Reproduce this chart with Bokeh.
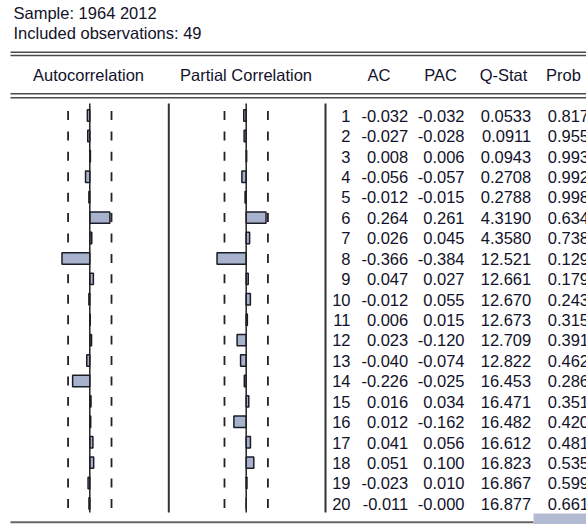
from bokeh.plotting import figure
from bokeh.models import Range1d
from bokeh.core.properties import value
from bokeh.embed import file_html
from bokeh.resources import INLINE

# Correlogram data, lags 1..20
lags = list(range(1, 21))
ac = [-0.032, -0.027, 0.008, -0.056, -0.012, 0.264, 0.026, -0.366, 0.047, -0.012,
      0.006, 0.023, -0.040, -0.226, 0.016, 0.012, 0.041, 0.051, -0.023, -0.011]
pac = [-0.032, -0.028, 0.006, -0.057, -0.015, 0.261, 0.045, -0.384, 0.027, 0.055,
       0.015, -0.120, -0.074, -0.025, 0.034, -0.162, 0.056, 0.100, 0.010, -0.000]
qstat = [0.0533, 0.0911, 0.0943, 0.2708, 0.2788, 4.3190, 4.3580, 12.521, 12.661, 12.670,
         12.673, 12.709, 12.822, 16.453, 16.471, 16.482, 16.612, 16.823, 16.867, 16.877]
prob = [0.817, 0.955, 0.993, 0.992, 0.998, 0.634, 0.738, 0.129, 0.179, 0.243,
        0.315, 0.391, 0.462, 0.286, 0.351, 0.420, 0.481, 0.535, 0.599, 0.661]

sample_label = "Sample: 1964 2012"
n_obs = 49
obs_label = f"Included observations: {n_obs}"
headers = ["Autocorrelation", "Partial Correlation", "AC", "PAC", "Q-Stat", "Prob"]

W, H = 586, 524
FONT = value("Liberation Sans")
FS = "16.5px"
INK = "#12122a"
RULE = "#4a4a4a"

# Layout in screen pixels
row1_px = 115.0
row_step = 20.42
px_per_unit = 76.0
acf_zero = 89.3
pacf_zero = 245.7

lag_top = 1 + (0 - row1_px) / row_step
lag_bottom = 1 + (H - row1_px) / row_step

p = figure(width=W, height=H, output_backend="svg", toolbar_location=None,
           x_range=Range1d(0, W), y_range=Range1d(lag_bottom, lag_top),
           x_axis_type=None, y_axis_type=None, min_border=0)
p.grid.visible = False
p.outline_line_color = None
p.background_fill_color = "white"
p.border_fill_color = "white"

p.extra_y_ranges = {"px": Range1d(H, 0)}
p.extra_x_ranges = {
    "acf": Range1d(-acf_zero / px_per_unit, (W - acf_zero) / px_per_unit),
    "pacf": Range1d(-pacf_zero / px_per_unit, (W - pacf_zero) / px_per_unit),
}

# Header block
p.text(x=[13, 13], y=[12.5, 32.5], text=[sample_label, obs_label], y_range_name="px",
       text_font=FONT, text_font_size=FS, text_color=INK, text_baseline="alphabetic")

for yy in (51.7, 55.0, 93.3, 97.3):
    p.segment(x0=10, x1=W, y0=yy, y1=yy, y_range_name="px", line_color=RULE, line_width=1.4)

head_x = [88, 245.5, 378.5, 440, 503, 563]
p.text(x=head_x, y=[74] * 6, text=headers, y_range_name="px", text_font=FONT,
       text_font_size=FS, text_color=INK, text_align="center", text_baseline="alphabetic")

# Vertical rules
top_px, bot_px = 103, 512
p.segment(x0=[168.3, 325], x1=[168.3, 325], y0=[top_px] * 2, y1=[bot_px] * 2,
          y_range_name="px", line_color="#333333", line_width=2)

# Approximate 95% bands (+/- 2/sqrt(n)) drawn as short dashes per lag
band = 2 / n_obs ** 0.5
for rng in ("acf", "pacf"):
    for s in (-band, band):
        p.segment(x0=[s] * len(lags), x1=[s] * len(lags),
                  y0=[l - 0.22 for l in lags], y1=[l + 0.22 for l in lags],
                  x_range_name=rng, line_color="#222222", line_width=1.8)

# Bars
BAR_FILL = "#a9b2cd"
p.hbar(y=lags, left=0, right=ac, height=0.56, x_range_name="acf",
       fill_color=BAR_FILL, line_color="#1c1c28", line_width=1.5)
p.hbar(y=lags, left=0, right=pac, height=0.56, x_range_name="pacf",
       fill_color=BAR_FILL, line_color="#1c1c28", line_width=1.5)

# Zero lines
for rng in ("acf", "pacf"):
    p.segment(x0=0, x1=0, y0=1 + (top_px - row1_px) / row_step,
              y1=1 + (bot_px - row1_px) / row_step,
              x_range_name=rng, line_color="#222222", line_width=1.5)

# Table of statistics
def fmt_q(q):
    return f"{q:.4f}" if q < 10 else f"{q:.3f}"

cols = [
    (350, [str(l) for l in lags]),
    (407.7, [f"{v:.3f}" for v in ac]),
    (464, [f"{v:.3f}" for v in pac]),
    (530.7, [fmt_q(q) for q in qstat]),
    (588.5, [f"{v:.3f}" for v in prob]),
]
for cx, labels in cols:
    p.text(x=[cx] * len(lags), y=lags, text=labels, text_font=FONT, text_font_size=FS,
           text_color=INK, text_align="right", text_baseline="alphabetic", y_offset=0.3)

# Bottom rule and scroll thumb
p.segment(x0=10, x1=533, y0=521.7, y1=521.7, y_range_name="px", line_color="#666666", line_width=2)
p.quad(left=533, right=W, top=513, bottom=524, y_range_name="px",
       fill_color="#b3bbd3", line_color=None)

open("out.html", "w").write(file_html(p, INLINE))
